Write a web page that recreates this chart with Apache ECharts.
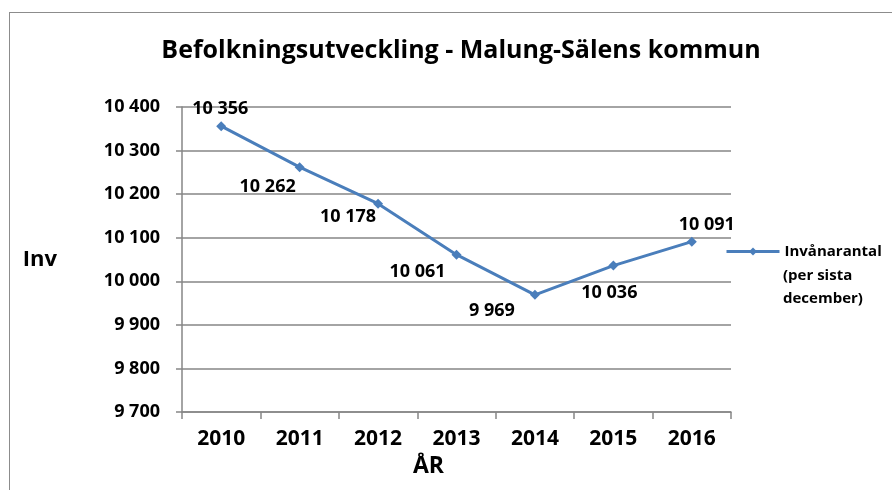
<!DOCTYPE html>
<html>
<head>
<meta charset="utf-8">
<script src="https://cdn.jsdelivr.net/npm/echarts@6/dist/echarts.min.js"></script>
<style>
  html, body { margin: 0; padding: 0; background: #fff; }
  #chart { width: 892px; height: 490px; }
  #frame { position: absolute; left: 9px; top: 12px; width: 900px; height: 500px; border: 1px solid #8c8c8c; pointer-events: none; }
</style>
</head>
<body>
<div id="chart"></div>
<div id="frame"></div>
<script>
// Data
var years = ['2010', '2011', '2012', '2013', '2014', '2015', '2016'];
var population = [10356, 10262, 10178, 10061, 9969, 10036, 10091];
var yTicks = [9700, 9800, 9900, 10000, 10100, 10200, 10300, 10400];

// label placement, like the original Excel chart
var labelOffsets = [[-1, -17], [-32, 20], [-30, 13], [-39, 17], [-43, 16], [-4, 27], [15, -17]];

var font = '"Open Sans", "DejaVu Sans", sans-serif';
var seriesName = 'Invånarantal (per sista december)';

function fmt(v) {
  return String(v).replace(/\B(?=(\d{3})+(?!\d))/g, ' ');
}

var chart = echarts.init(document.getElementById('chart'));

chart.setOption({
  animation: false,
  title: {
    text: 'Befolkningsutveckling - Malung-Sälens kommun',
    left: 456,
    textAlign: 'center',
    top: 33,
    textStyle: { fontFamily: font, fontWeight: 'bold', fontSize: 25, color: '#000' }
  },
  legend: {
    left: 725,
    top: 244,
    padding: 0,
    itemWidth: 53,
    itemHeight: 10,
    data: [{ name: seriesName }],
    lineStyle: { width: 3 },
    formatter: function () { return 'Invånarantal'; },
    textStyle: { fontFamily: font, fontWeight: 'bold', fontSize: 15, color: '#000' }
  },
  graphic: [{
    type: 'text',
    left: 783,
    top: 264,
    style: {
      text: '(per sista\ndecember)',
      fontFamily: font,
      fontWeight: 'bold',
      fontSize: 15,
      fill: '#000',
      lineHeight: 23
    }
  }],
  grid: { left: 182, right: 161, top: 107, bottom: 78 },
  xAxis: {
    type: 'category',
    data: years,
    boundaryGap: true,
    name: 'ÅR',
    nameLocation: 'middle',
    nameGap: 42,
    nameTextStyle: { fontFamily: font, fontWeight: 'bold', fontSize: 23, color: '#000', padding: [0, 56, 0, 0] },
    axisLine: { lineStyle: { color: '#868686', width: 1.5 } },
    axisTick: { show: true, alignWithLabel: false, length: 7, lineStyle: { color: '#868686', width: 1.5 } },
    axisLabel: { fontFamily: font, fontWeight: 'bold', fontSize: 21, color: '#000', margin: 17 }
  },
  yAxis: {
    type: 'value',
    min: yTicks[0],
    max: yTicks[yTicks.length - 1],
    interval: 100,
    name: 'Inv',
    nameLocation: 'middle',
    nameRotate: 0,
    nameGap: 125,
    nameTextStyle: { fontFamily: font, fontWeight: 'bold', fontSize: 22, color: '#000' },
    axisLine: { show: true, lineStyle: { color: '#868686', width: 1.5 } },
    axisTick: { show: true, length: 6, lineStyle: { color: '#868686', width: 1.5 } },
    axisLabel: { fontFamily: font, fontWeight: 'bold', fontSize: 18, color: '#000', margin: 22, formatter: fmt },
    splitLine: { lineStyle: { color: '#868686', width: 1.5 } }
  },
  series: [{
    name: seriesName,
    type: 'line',
    symbol: 'diamond',
    symbolSize: 10,
    itemStyle: { color: '#4a7ebb' },
    lineStyle: { color: '#4a7ebb', width: 3 },
    data: population.map(function (v, i) {
      return {
        value: v,
        label: { offset: labelOffsets[i] }
      };
    }),
    label: {
      show: true,
      position: 'inside',
      fontFamily: font,
      fontWeight: 'bold',
      fontSize: 18,
      color: '#000',
      formatter: function (p) { return fmt(p.value); }
    }
  }]
});
</script>
</body>
</html>
